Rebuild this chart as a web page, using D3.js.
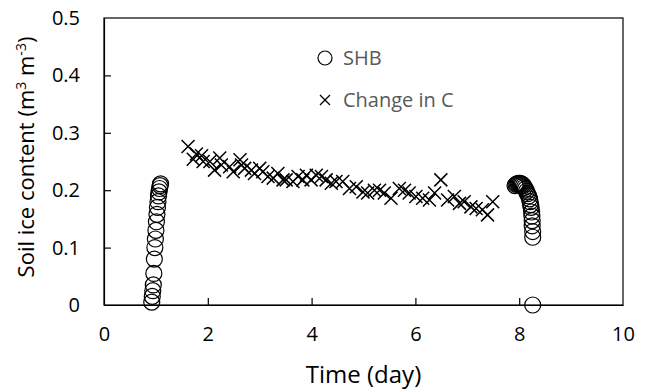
<!DOCTYPE html>
<html lang="en">
<head>
    <meta charset="UTF-8">
    <title>Soil ice content</title>
    <script src="https://d3js.org/d3.v7.min.js"></script>
    <style>
        body{
            margin: 0;
        }
        text{
            font-family: "Open Sans", "Noto Sans", sans-serif;
        }
        g.axis text{
            font-size: 20px;
            fill: #000;
        }
    </style>
</head>
<body>
<svg width="647" height="390"></svg>
<script>
    // step 1: data
    // SHB series (day, soil ice content)
    let shbDay = [0.92, 0.93, 0.94, 0.95, 0.96, 0.97, 0.98, 0.99, 1.00, 1.01, 1.02, 1.03, 1.04, 1.05, 1.06, 1.07, 1.08, 1.09,
        7.92, 7.94, 7.96, 7.98, 8.00, 8.02, 8.04, 8.06, 8.08, 8.10, 8.12, 8.14, 8.16, 8.18, 8.20, 8.21, 8.22, 8.23, 8.24, 8.245, 8.25, 8.25, 8.26, 8.26, 8.26];
    let shbIce = [0.005, 0.015, 0.025, 0.035, 0.055, 0.08, 0.10, 0.115, 0.13, 0.145, 0.158, 0.17, 0.18, 0.19, 0.197, 0.203, 0.208, 0.211,
        0.208, 0.21, 0.211, 0.212, 0.212, 0.212, 0.211, 0.21, 0.208, 0.205, 0.202, 0.198, 0.194, 0.19, 0.185, 0.18, 0.175, 0.17, 0.162, 0.155, 0.147, 0.138, 0.128, 0.118, 0.0];

    // Change in C series
    let ccDay = [1.62, 1.72, 1.78, 1.88, 1.91, 2.04, 2.13, 2.23, 2.26, 2.42, 2.49, 2.62, 2.65, 2.71, 2.84, 2.90, 3.00, 3.06, 3.16, 3.26,
        3.35, 3.45, 3.51, 3.64, 3.74, 3.83, 3.90, 3.99, 4.09, 4.19, 4.28, 4.38, 4.47, 4.60, 4.73, 4.86, 4.99, 5.08, 5.21, 5.31,
        5.40, 5.53, 5.69, 5.79, 5.88, 6.01, 6.14, 6.27, 6.37, 6.49, 6.62, 6.75, 6.85, 6.94, 7.07, 7.17, 7.29, 7.39, 7.49];
    let ccIce = [0.276, 0.254, 0.263, 0.260, 0.250, 0.250, 0.235, 0.256, 0.244, 0.241, 0.232, 0.253, 0.244, 0.238, 0.235, 0.229, 0.238, 0.232, 0.224, 0.221,
        0.229, 0.218, 0.218, 0.215, 0.224, 0.218, 0.226, 0.218, 0.226, 0.224, 0.218, 0.212, 0.215, 0.215, 0.203, 0.206, 0.197, 0.195, 0.200, 0.200,
        0.195, 0.186, 0.203, 0.200, 0.195, 0.189, 0.186, 0.183, 0.195, 0.218, 0.183, 0.189, 0.177, 0.180, 0.171, 0.168, 0.166, 0.157, 0.180];

    let xTicks = [0, 2, 4, 6, 8, 10];
    let yTicks = [0, 0.1, 0.2, 0.3, 0.4, 0.5];
    let legendLabels = ["SHB", "Change in C"];

    // step 2: prepare environment
    let svg = d3.select('svg');
    const plotLeft = 104, plotRight = 623, plotTop = 18, plotBottom = 305;

    let xScale = d3.scaleLinear().domain([0, 10]).range([plotLeft, plotRight]);
    let yScale = d3.scaleLinear().domain([0, 0.5]).range([plotBottom, plotTop]);

    // frame (top and right border)
    svg.append("rect")
        .attr("x", plotLeft).attr("y", plotTop)
        .attr("width", plotRight - plotLeft).attr("height", plotBottom - plotTop)
        .attr("fill", "none").attr("stroke", "black").attr("stroke-width", 1.2);

    // axes with ticks pointing inside
    let xAxis = svg.append("g")
        .attr("class", "axis")
        .attr("transform", "translate(0," + plotBottom + ")")
        .call(d3.axisBottom(xScale).tickValues(xTicks).tickFormat(d3.format("d")).tickSizeInner(-7).tickSizeOuter(0).tickPadding(22));
    let yAxis = svg.append("g")
        .attr("class", "axis")
        .attr("transform", `translate(${plotLeft},0)`)
        .call(d3.axisLeft(yScale).tickValues(yTicks).tickFormat(d => d === 0 ? "0" : d3.format(".1f")(d)).tickSizeInner(-7).tickSizeOuter(0).tickPadding(24));
    [xAxis, yAxis].forEach(a => {
        a.select(".domain").attr("stroke", "black").attr("stroke-width", 1.2);
        a.selectAll(".tick line").attr("stroke", "black").attr("stroke-width", 1.2);
        a.selectAll(".tick").filter(d => d === 0 || d === 10 || d === 0.5).select("line").remove();
    });

    // axis titles
    svg.append("text")
        .attr("x", (plotLeft + plotRight) / 2).attr("y", 383)
        .attr("text-anchor", "middle")
        .style("font-size", "24px")
        .text("Time (day)");
    let yTitle = svg.append("text")
        .attr("transform", "translate(34," + 157 + ") rotate(-90)")
        .attr("text-anchor", "middle")
        .style("font-size", "22px");
    yTitle.append("tspan").text("Soil ice content (m");
    yTitle.append("tspan").attr("dy", -8).style("font-size", "14px").text("3");
    yTitle.append("tspan").attr("dy", 8).text(" m");
    yTitle.append("tspan").attr("dy", -8).style("font-size", "14px").text("-3");
    yTitle.append("tspan").attr("dy", 8).text(")");

    // step 3: marks
    let shb = shbDay.map((d, i) => ({x: d, y: shbIce[i]}));
    let cc = ccDay.map((d, i) => ({x: d, y: ccIce[i]}));

    svg.append("g").selectAll("path")
        .data(cc)
        .enter()
        .append("path")
        .attr("d", d => {
            let cx = xScale(d.x), cy = yScale(d.y), s = 6.5;
            return `M${cx - s},${cy - s}L${cx + s},${cy + s}M${cx - s},${cy + s}L${cx + s},${cy - s}`;
        })
        .attr("stroke", "black")
        .attr("stroke-width", 1.5);

    svg.append("g").selectAll("circle")
        .data(shb)
        .enter()
        .append("circle")
        .attr("cx", d => xScale(d.x))
        .attr("cy", d => yScale(d.y))
        .attr("r", 8)
        .attr("fill", "none")
        .attr("stroke", "black")
        .attr("stroke-width", 1.2);

    // legend
    let legend = svg.append("g");
    legend.append("circle")
        .attr("cx", 325).attr("cy", 58).attr("r", 7)
        .attr("fill", "none").attr("stroke", "black").attr("stroke-width", 1.2);
    legend.append("path")
        .attr("d", "M320,95L330,105M320,105L330,95")
        .attr("stroke", "black").attr("stroke-width", 1.3);
    legend.selectAll("text")
        .data(legendLabels)
        .enter()
        .append("text")
        .attr("x", 343)
        .attr("y", (d, i) => 58 + i * 42)
        .attr("dy", "0.35em")
        .style("font-size", "20px")
        .attr("fill", "#595959")
        .text(d => d);
</script>
</body>
</html>
